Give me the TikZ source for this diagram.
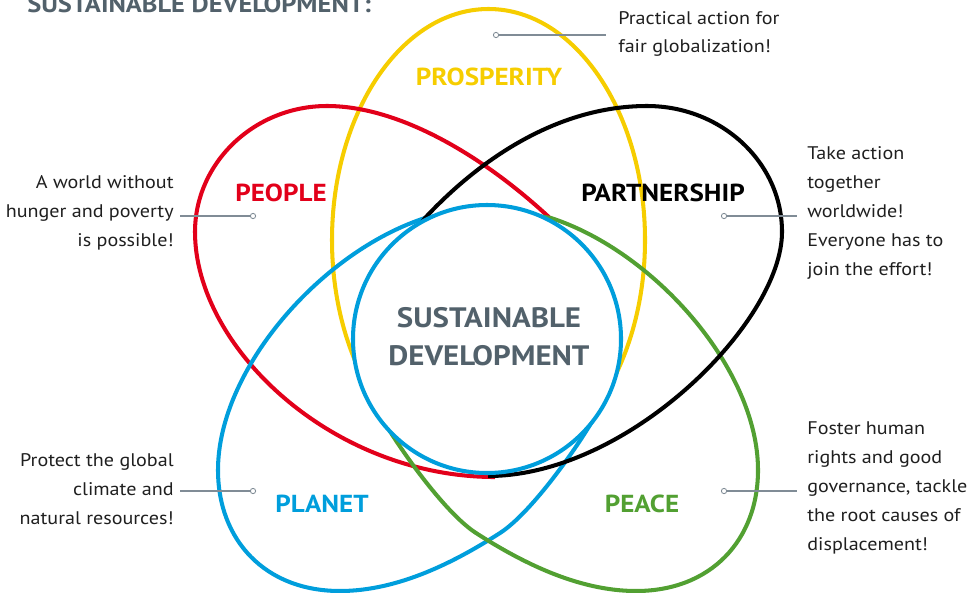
\documentclass[tikz,border=0pt]{standalone}
\usepackage{fontspec}
\setmainfont{PT Sans}[FakeStretch=1.1]
\definecolor{sdred}{RGB}{226,0,26}
\definecolor{sdyellow}{RGB}{246,205,0}
\definecolor{sdblue}{RGB}{0,158,220}
\definecolor{sdgreen}{RGB}{82,160,50}
\definecolor{sdgrey}{RGB}{82,97,107}
\definecolor{sdline}{RGB}{128,140,150}
\tikzset{
  lobe/.style={line width=2.3pt, line join=round},
  goal/.style={font=\fontsize{14}{16}\selectfont\bfseries, inner sep=0pt},
  note/.style={font=\fontsize{10.4}{16.4}\selectfont, text=black!88, inner sep=0pt},
  leader/.style={sdline, line width=0.6pt},
  dot/.style={circle, draw=sdline, fill=white, line width=0.5pt, minimum size=3pt, inner sep=0pt},
}
\begin{document}
\begin{tikzpicture}[x=0.02cm, y=-0.02cm]
        \useasboundingbox (0,0) rectangle (979,592);

        % Titolo tagliato in alto
        \node[anchor=base west, font=\fontsize{13.7}{16}\selectfont\bfseries, text=sdgrey, inner sep=0pt] (title) at (27,12) {SUSTAINABLE DEVELOPMENT:};

        % Petali (le parti interne vengono coperte dal cerchio)
        \draw[lobe, sdyellow] (488.5,240) ellipse [x radius=156.5, y radius=231];
        \draw[lobe, sdred] (575,255) -- (552,220) .. controls (485,157) and (400,106) .. (327,106)
              .. controls (254,106) and (195,163) .. (195,232)
              .. controls (195,347) and (332,477) .. (495,477);
        \draw[lobe, sdblue] (450,214) -- (425,218) .. controls (320.5,252.1) and (218,370) .. (218,470)
              .. controls (218,540) and (265,591) .. (340,591)
              .. controls (400,591) and (458,560) .. (500,533)
              .. controls (529.4,514.1) and (572.6,454.4) .. (593,420) -- (600,400);
        \draw[lobe, sdgreen] (526,214) -- (551,218) .. controls (655.5,252.1) and (758,370) .. (758,470)
              .. controls (758,540) and (711,591) .. (636,591)
              .. controls (576,591) and (518,560) .. (476,533)
              .. controls (446.6,514.1) and (403.4,454.4) .. (383,420) -- (376,400);
        \draw[lobe, black] (410,238) -- (425,218) .. controls (479,160) and (557,106) .. (647,106)
              .. controls (721,106) and (782,162) .. (782,232)
              .. controls (782,322) and (628,476) .. (488,476);

        % Cerchio centrale
        \draw[lobe, sdblue, fill=white] (487,339) circle [radius=134];
        \node[align=center, font=\fontsize{16}{21.5}\selectfont\bfseries, text=sdgrey] (core) at (489,337) {SUSTAINABLE\\DEVELOPMENT};

        % Etichette dei petali
        \node[goal, text=sdyellow] (prosperity) at (489,77) {PROSPERITY};
        \node[goal, text=sdred] (people) at (281,193) {PEOPLE};
        \node[goal, text=black] (partnership) at (663,193) {PARTNERSHIP};
        \node[goal, text=sdblue] (planet) at (322,504) {PLANET};
        \node[goal, text=sdgreen] (peace) at (642,504) {PEACE};

        % Testi esterni
        \node[note, anchor=west, align=left] (prosptxt) at (618,34) {Practical action for\\fair globalization!};
        \node[note, anchor=east, align=right] (peopletxt) at (174,213) {A world without\\hunger and poverty\\is possible!};
        \node[note, anchor=west, align=left] (parttxt) at (807,213) {Take action\\together\\worldwide!\\Everyone has to\\join the effort!};
        \node[note, anchor=east, align=right] (planettxt) at (174,489) {Protect the global\\climate and\\natural resources!};
        \node[note, anchor=west, align=left] (peacetxt) at (807,488) {Foster human\\rights and good\\governance, tackle\\the root causes of\\displacement!};

        % Linee di richiamo
        \coordinate (lprosp) at (606,35);
        \coordinate (lpeople) at (180,216);
        \coordinate (lpart) at (797,216);
        \coordinate (lplanet) at (180,491);
        \coordinate (lpeace) at (797,491);
        \node[dot] (dprosp) at (496,35) {};
        \node[dot] (dpeople) at (253,216) {};
        \node[dot] (dpart) at (724,216) {};
        \node[dot] (dplanet) at (253,491) {};
        \node[dot] (dpeace) at (724,491) {};
        \draw[leader] (dprosp) -- (lprosp);
        \draw[leader] (lpeople) -- (dpeople);
        \draw[leader] (dpart) -- (lpart);
        \draw[leader] (lplanet) -- (dplanet);
        \draw[leader] (dpeace) -- (lpeace);

\end{tikzpicture}
\end{document}
